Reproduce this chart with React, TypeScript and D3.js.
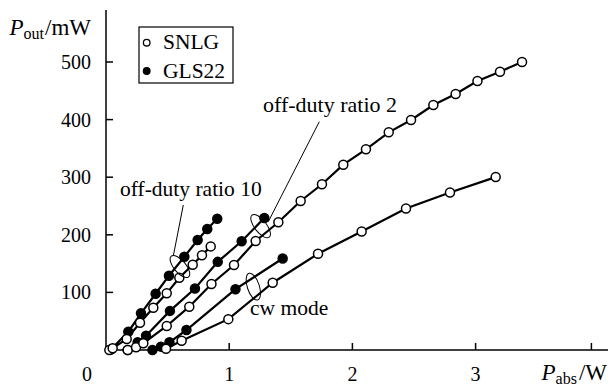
import React from "react";
import * as d3 from "d3";

// [P_abs (W), P_out (mW)]
const off10GLS22: [number, number][] = [
  [0.04, 1], [0.181, 31.8], [0.284, 63.7], [0.403, 97.7], [0.511, 129],
  [0.636, 162], [0.744, 191], [0.822, 210], [0.903, 228],
];
const off10SNLG: [number, number][] = [
  [0.027, 0], [0.054, 2.9], [0.168, 19.1], [0.276, 47.4], [0.384, 73.4],
  [0.493, 98.4], [0.595, 125.5], [0.704, 148], [0.779, 164.4], [0.85, 179.9],
];
const off2GLS22: [number, number][] = [
  [0.176, 0], [0.257, 13.4], [0.325, 24.8], [0.519, 67.9], [0.722, 106.8],
  [0.907, 153], [1.101, 188.8], [1.285, 229.2],
];
const off2SNLG: [number, number][] = [
  [0.176, 0], [0.244, 4.7], [0.303, 11.6], [0.493, 41.7], [0.676, 75.2],
  [0.856, 114.6], [1.039, 147.6], [1.215, 189.2], [1.399, 221.7], [1.58, 258.7],
  [1.753, 287.7], [1.926, 321.7], [2.11, 348.4], [2.295, 377.9], [2.476, 399.3],
  [2.657, 425.3], [2.838, 444.4], [3.015, 467], [3.198, 483.2], [3.377, 500],
];
const cwGLS22: [number, number][] = [
  [0.377, 0], [0.446, 5.8], [0.515, 13.4], [0.653, 34.7], [1.051, 105.6], [1.434, 158.9],
];
const cwSNLG: [number, number][] = [
  [0.487, 2.3], [0.614, 16.1], [0.993, 53.6], [1.353, 116.8], [1.721, 167],
  [2.075, 205.7], [2.435, 245.6], [2.792, 273.4], [3.163, 300.2],
];

const xTicks = [1, 2, 3, 3.94];
const xTickLabels = ["1", "2", "3", ""];
const yTicks = [100, 200, 300, 400, 500];

// GLS22 drawn first so the open SNLG markers sit on top
const series = [
  { data: off10GLS22, filled: true },
  { data: off2GLS22, filled: true },
  { data: cwGLS22, filled: true },
  { data: off10SNLG, filled: false },
  { data: off2SNLG, filled: false },
  { data: cwSNLG, filled: false },
];

const font = "Liberation Serif, Times New Roman, Times, serif";

export default function App() {
  const width = 610;
  const height = 387;
  const x = d3.scaleLinear().domain([0, 4]).range([106, 598.8]);
  const y = d3.scaleLinear().domain([0, 500]).range([350, 62]);
  const line = d3
    .line<[number, number]>()
    .x((d) => x(d[0]))
    .y((d) => y(d[1]));

  // annotation ellipses (cx, cy in data units)
  const ellipses = [
    { cx: 0.6, cy: 145, rx: 13.5, ry: 6, rot: 50 },
    { cx: 1.255, cy: 215, rx: 14, ry: 6, rot: 52 },
    { cx: 1.196, cy: 110, rx: 14, ry: 6, rot: 72 },
  ];

  return (
    <svg
      width={width}
      height={height}
      style={{ position: "absolute", left: 0, top: 0, background: "#fff", fontFamily: font }}
    >
      {/* axes */}
      <line x1={x(0)} x2={x(0)} y1={10} y2={y(0)} stroke="#000" strokeWidth={1.5} />
      <line x1={x(0)} x2={608} y1={y(0)} y2={y(0)} stroke="#000" strokeWidth={1.5} />
      {yTicks.map((t) => (
        <g key={t}>
          <line x1={x(0)} x2={x(0) + 7} y1={y(t)} y2={y(t)} stroke="#000" strokeWidth={1.5} />
          <text x={91} y={y(t) + 7} textAnchor="end" fontSize={20}>
            {t}
          </text>
        </g>
      ))}
      {xTicks.map((t, i) => (
        <g key={t}>
          <line x1={x(t)} x2={x(t)} y1={y(0)} y2={y(0) - 7} stroke="#000" strokeWidth={1.5} />
          <text x={x(t)} y={381} textAnchor="middle" fontSize={20}>
            {xTickLabels[i]}
          </text>
        </g>
      ))}
      <text x={87} y={381} textAnchor="middle" fontSize={20}>
        0
      </text>

      {/* axis titles */}
      <text x={91} y={35} textAnchor="end" fontSize={23}>
        <tspan fontStyle="italic">P</tspan>
        <tspan fontSize={16} dy={4}>out</tspan>
        <tspan dy={-4} dx={1}>/mW</tspan>
      </text>
      <text x={607} y={380} textAnchor="end" fontSize={23}>
        <tspan fontStyle="italic">P</tspan>
        <tspan fontSize={16} dy={4}>abs</tspan>
        <tspan dy={-4} dx={2}>/W</tspan>
      </text>

      {/* curves */}
      {series.map((s, i) => (
        <g key={i}>
          <path d={line(s.data) ?? ""} fill="none" stroke="#000" strokeWidth={2.2} />
          {s.data.map((d, j) => (
            <circle
              key={j}
              cx={x(d[0])}
              cy={y(d[1])}
              r={4.5}
              fill={s.filled ? "#000" : "#fff"}
              stroke="#000"
              strokeWidth={1.5}
            />
          ))}
        </g>
      ))}

      {/* annotations */}
      {ellipses.map((e, i) => (
        <ellipse
          key={i}
          cx={x(e.cx)}
          cy={y(e.cy)}
          rx={e.rx}
          ry={e.ry}
          fill="none"
          stroke="#000"
          strokeWidth={1}
          transform={`rotate(${e.rot},${x(e.cx)},${y(e.cy)})`}
        />
      ))}
      <line x1={183.3} y1={205} x2={173.3} y2={256} stroke="#000" strokeWidth={1} />
      <line x1={319.3} y1={121.7} x2={268.3} y2={221.7} stroke="#000" strokeWidth={1} />
      <text x={120} y={196} fontSize={21.5}>off-duty ratio 10</text>
      <text x={263} y={111.5} fontSize={22}>off-duty ratio 2</text>
      <text x={250} y={315} fontSize={21.5}>cw mode</text>

      {/* legend */}
      <rect x={139} y={27} width={94} height={56} fill="#fff" stroke="#000" strokeWidth={1.2} />
      <circle cx={146.7} cy={42.7} r={3.3} fill="#fff" stroke="#000" strokeWidth={1.3} />
      <circle cx={146.7} cy={71} r={3.3} fill="#000" stroke="#000" strokeWidth={1.3} />
      <text x={163} y={49} fontSize={21.5}>SNLG</text>
      <text x={163} y={77.5} fontSize={21.5}>GLS22</text>
    </svg>
  );
}
